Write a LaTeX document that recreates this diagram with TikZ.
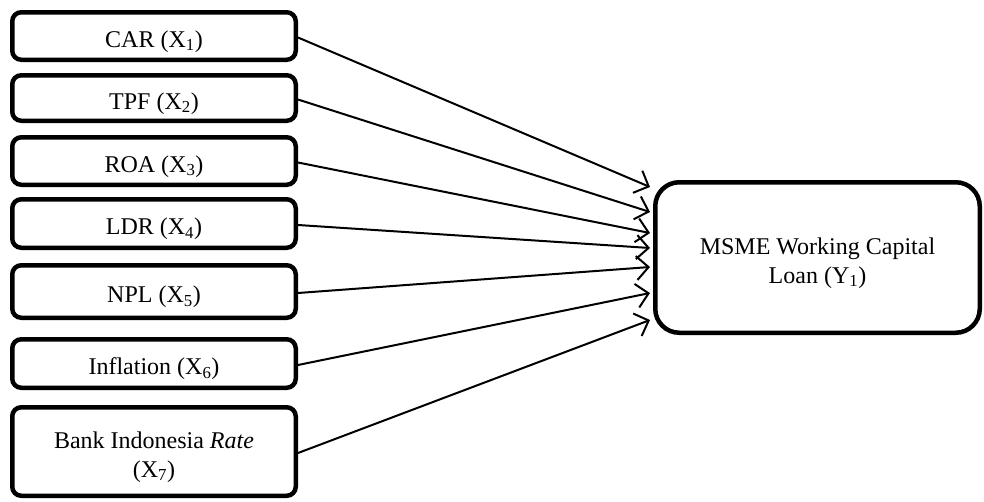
\documentclass[tikz,border=0pt]{standalone}
\usepackage{fontspec}
\setmainfont{Liberation Serif}
\usetikzlibrary{arrows.meta,positioning}

\begin{document}
\begin{tikzpicture}[x=1pt, y=-1pt,
    varbox/.style={draw, line width=4.5pt, rounded corners=9pt, minimum width=283.5pt,
        align=center, inner sep=0pt, text height=22pt, text depth=0pt,
        font=\fontsize{24}{29}\selectfont},
    twoline/.style={text height=51pt},
    loanbox/.style={varbox, twoline, rounded corners=24pt, minimum width=324.5pt, minimum height=150.5pt},
    link/.style={line width=2pt, -{Straight Barb[length=12pt,width=24pt,line width=2pt]}}]
    \useasboundingbox (0,0) rectangle (984,501);
    % independent variables
    \node[varbox, minimum height=47.5pt] (car)  at (154,36)    {CAR (X\textsubscript{1})};
    \node[varbox, minimum height=45.5pt] (tpf)  at (154,98)    {TPF (X\textsubscript{2})};
    \node[varbox, minimum height=47.5pt] (roa)  at (154,161)   {ROA (X\textsubscript{3})};
    \node[varbox, minimum height=48.5pt] (ldr)  at (154,223.5) {LDR (X\textsubscript{4})};
    \node[varbox, minimum height=52.5pt] (npl)  at (154,291.5) {NPL (X\textsubscript{5})};
    \node[varbox, minimum height=48.5pt] (infl) at (154,363.5) {Inflation (X\textsubscript{6})};
    \node[varbox, twoline, minimum height=88.5pt] (bir) at (154,451.5) {Bank Indonesia \textit{Rate}\\(X\textsubscript{7})};
    % dependent variable
    \node[loanbox] (loan) at (817.5,257.5) {MSME Working Capital\\Loan (Y\textsubscript{1})};
    % arrow tips on the left side of the loan box
    \coordinate (t1) at (650,187);
    \coordinate (t2) at (650,212);
    \coordinate (t3) at (650,233);
    \coordinate (t4) at (650,248);
    \coordinate (t5) at (650,267);
    \coordinate (t6) at (650,293);
    \coordinate (t7) at (650,320);
    \foreach \src/\tip in {car/t1, tpf/t2, roa/t3, ldr/t4, npl/t5, infl/t6, bir/t7}
        \draw[link] ([yshift=-1.5pt]\src.east) -- (\tip);
\end{tikzpicture}
\end{document}
